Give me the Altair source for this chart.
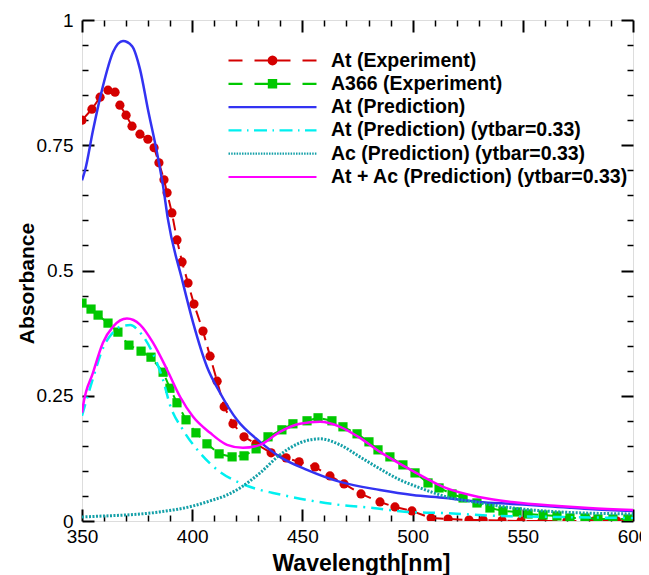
import math
import altair as alt
import pandas as pd

FONT = "Liberation Sans"
W, H = 551, 501

series = ["At (Experiment)", "A366 (Experiment)", "At (Prediction)",
          "At (Prediction) (ytbar=0.33)", "Ac (Prediction) (ytbar=0.33)",
          "At + Ac (Prediction) (ytbar=0.33)"]
colors = ["#d40000", "#00c800", "#3333f2", "#00f0f0", "#14a0a8", "#ff00ff"]

# ---- experimental data ----
at_exp_wl = [350, 354.5, 358.2, 361.8, 365.0, 367.2, 370.0, 372.7, 376.3, 379.9, 382.7,
             384.9, 387.2, 388.6, 390.8, 393.1, 395.4, 398.1, 400.8, 404.9, 408.1, 411.3,
             414.5, 418.5, 423.5, 428.9, 435.8, 442.6, 448.5, 455.7, 462.5, 468.9, 476.6,
             485.2, 492.0, 499.7, 508.4, 516.1, 525.6, 532.0, 540.6, 549.2, 558.7, 570.0,
             582.3, 592.7, 600]
at_exp_val = [0.800, 0.822, 0.846, 0.860, 0.856, 0.830, 0.810, 0.788, 0.772, 0.762, 0.745,
              0.715, 0.681, 0.655, 0.615, 0.561, 0.517, 0.475, 0.433, 0.379, 0.329, 0.279,
              0.228, 0.194, 0.168, 0.154, 0.136, 0.126, 0.118, 0.108, 0.090, 0.074, 0.054,
              0.038, 0.028, 0.020, 0.006, 0.004, 0.002, 0.002, 0.001, 0.0, 0.0, 0.0,
              0.0, 0.0, 0.0]

a366_wl = [350, 354.1, 357.3, 361.8, 366.3, 371.3, 376.8, 381.3, 386.8, 389.9, 393.1,
           397.2, 401.7, 406.7, 412.2, 418.1, 423.5, 429.0, 434.4, 440.7, 445.7, 452.1,
           457.1, 463.4, 468.4, 474.8, 480.2, 484.3, 489.7, 495.6, 501.1, 507.0, 512.0,
           517.9, 522.9, 529.2, 535.1, 541.0, 547.4, 552.4, 559.2, 565.5, 571.4, 578.2,
           584.1, 590.9, 597.7]
a366_val = [0.435, 0.423, 0.411, 0.395, 0.377, 0.351, 0.339, 0.327, 0.297, 0.265, 0.236,
            0.202, 0.176, 0.154, 0.134, 0.128, 0.130, 0.144, 0.168, 0.182, 0.194, 0.200,
            0.206, 0.200, 0.188, 0.174, 0.158, 0.142, 0.128, 0.112, 0.096, 0.076, 0.066,
            0.054, 0.046, 0.036, 0.026, 0.020, 0.018, 0.014, 0.012, 0.010, 0.006, 0.006,
            0.004, 0.004, 0.004]

# ---- predictions ----
at_pred_wl = [350, 351.4, 355, 359.5, 364.1, 368.6, 372.7, 376.3, 379.9, 384, 386.8, 389,
              395.4, 400.4, 406.7, 412.6, 420.3, 430.8, 439.8, 452.1, 467.1, 485.2, 500,
              515, 530, 545, 560, 580, 600]
at_pred_val = [0.680, 0.700, 0.780, 0.868, 0.936, 0.958, 0.948, 0.902, 0.822, 0.736, 0.668,
               0.602, 0.482, 0.396, 0.308, 0.256, 0.202, 0.158, 0.128, 0.102, 0.078, 0.062,
               0.052, 0.046, 0.038, 0.034, 0.030, 0.024, 0.020]

at33_wl = [350, 355, 359.5, 364, 368, 372, 376, 382, 386.8, 389.9, 395.8, 403.5, 412.6,
           421.7, 430.8, 436.7, 452.1, 467.1, 482, 497.5, 512.4, 540, 567, 600]
at33_val = [0.210, 0.285, 0.345, 0.376, 0.389, 0.391, 0.378, 0.336, 0.281, 0.232, 0.182,
            0.136, 0.098, 0.076, 0.062, 0.056, 0.042, 0.032, 0.026, 0.018, 0.016, 0.010,
            0.008, 0.006]

ac33_wl = [350, 360, 370, 385, 400.4, 408, 415.8, 421.7, 430.8, 439.8, 448.9, 458,
           467.1, 476.1, 485.2, 494.3, 503.4, 515.6, 530.6, 545.6, 567, 600]
ac33_val = [0.008, 0.010, 0.012, 0.018, 0.030, 0.040, 0.052, 0.066, 0.096, 0.132, 0.156,
            0.164, 0.152, 0.128, 0.104, 0.082, 0.066, 0.048, 0.036, 0.026, 0.018, 0.014]

sum33_wl = [350, 350.4, 355, 359.5, 364.1, 370.4, 376.3, 382.2, 388.6, 394.5, 400.4, 408.1,
            415.8, 423, 430.8, 439.8, 448.9, 458, 467.1, 476.1, 485.2, 494.3, 500, 515,
            530, 545, 566, 580, 600]
sum33_val = [0.216, 0.228, 0.296, 0.356, 0.388, 0.404, 0.392, 0.356, 0.302, 0.248, 0.208,
             0.176, 0.152, 0.146, 0.152, 0.178, 0.194, 0.198, 0.188, 0.166, 0.138, 0.114,
             0.100, 0.066, 0.048, 0.038, 0.030, 0.026, 0.022]

x_major = [350, 400, 450, 500, 550, 600]
x_minor = [v for v in range(350, 601, 10) if v % 50 != 0]
y_major = [0, 0.25, 0.5, 0.75, 1]
y_minor = [round(i * 0.05, 2) for i in range(1, 20) if i % 5 != 0]


def frame(wl, val, name):
    return pd.DataFrame({"wl": wl, "val": val, "series": name})


df_at_exp = frame(at_exp_wl, at_exp_val, series[0])
df_a366 = frame(a366_wl, a366_val, series[1])
pred_frames = [frame(at_pred_wl, at_pred_val, series[2]),
               frame(at33_wl, at33_val, series[3]),
               frame(ac33_wl, ac33_val, series[4]),
               frame(sum33_wl, sum33_val, series[5])]
df_all = pd.concat([df_at_exp, df_a366] + pred_frames)

xs = alt.Scale(domain=[350, 600], nice=False, zero=False)
ys = alt.Scale(domain=[0, 1], nice=False, zero=False)


def XY(xaxis=None, yaxis=None):
    return dict(x=alt.X("wl:Q", scale=xs, axis=xaxis),
                y=alt.Y("val:Q", scale=ys, axis=yaxis))


layers = []
# experiments: dashed line + markers
for dfe, col, marker in [(df_at_exp, colors[0], "circle"), (df_a366, colors[1], "square")]:
    layers.append(alt.Chart(dfe).mark_line(strokeWidth=2, strokeDash=[12, 7], clip=True, color=col)
                  .encode(**XY()))
    layers.append(alt.Chart(dfe).mark_point(shape=marker, filled=True, size=85, opacity=1,
                                            clip=True, color=col)
                  .encode(**XY()))
# predictions
pred_styles = [dict(strokeWidth=2.5),
               dict(strokeWidth=2.5, strokeDash=[12, 6, 2, 6]),
               dict(strokeWidth=3, strokeDash=[2, 1.5]),
               dict(strokeWidth=2.5)]
for dfp, st, col in zip(pred_frames, pred_styles, colors[2:]):
    layers.append(alt.Chart(dfp).mark_line(clip=True, interpolate="monotone", color=col, **st)
                  .encode(**XY()))


# legend symbols (custom paths, unit = 10 px)
def seg(a, b):
    return f"M{a:.2f},0L{b:.2f},0"


def pattern(parts):
    out, pos, i = "", -4.4, 0
    while pos < 4.4:
        length, gap = parts[i % len(parts)]
        out += seg(pos, min(pos + length, 4.4))
        pos += length + gap
        i += 1
    return out


def polygon(r, n):
    pts = [(r * math.cos(2 * math.pi * k / n), r * math.sin(2 * math.pi * k / n)) for k in range(n)]
    return "M" + "L".join(f"{x:.3f},{y:.3f}" for x, y in pts) + "Z"


circ = polygon(0.38, 16)
sq = "M-0.36,-0.36L0.36,-0.36L0.36,0.36L-0.36,0.36Z"
dashed = seg(-4.4, -3.0) + seg(-1.8, 1.8) + seg(3.0, 4.4)
paths = [dashed + circ, dashed + sq, seg(-4.4, 4.4),
         pattern([(1.3, 0.55), (0.15, 0.55)]),
         pattern([(0.15, 0.12)]),
         seg(-4.4, 4.4)]

leg = alt.Legend(orient="none", legendX=179, legendY=29, title=None, padding=0,
                 labelFont=FONT, labelFontSize=19.5, labelFontWeight="bold",
                 labelColor="black", labelOffset=47, labelLimit=400,
                 symbolSize=400, symbolStrokeWidth=2.2, symbolOpacity=1,
                 rowPadding=2.3)
layers.append(alt.Chart(df_all).mark_point(filled=True, opacity=0, size=400)
              .encode(shape=alt.Shape("series:N", scale=alt.Scale(domain=series, range=paths), legend=leg),
                      fill=alt.Fill("series:N", scale=alt.Scale(domain=series, range=colors), legend=leg),
                      stroke=alt.Stroke("series:N", scale=alt.Scale(domain=series, range=colors), legend=leg),
                      **XY()))


# axes
def tick_axis(orient, offset, values, size, width):
    return alt.Axis(orient=orient, offset=offset, values=values, tickSize=size,
                    tickWidth=width, tickColor="black", labels=False, domain=False,
                    grid=False, title=None)


x_lab = alt.Axis(orient="bottom", values=x_major, ticks=False, tickSize=0, domain=False,
                 grid=False, labelFont=FONT, labelFontSize=19, labelColor="black",
                 labelPadding=6, labelFlush=False, labelOverlap=False,
                 labelExpr="toString(datum.value)",
                 title="Wavelength[nm]", titleFont=FONT, titleFontSize=23,
                 titleFontWeight="bold", titleColor="black", titleX=279, titleY=42,
                 titleBaseline="middle")
y_lab = alt.Axis(orient="left", values=y_major, ticks=False, tickSize=0, domain=False,
                 grid=False, labelFont=FONT, labelFontSize=19, labelColor="black",
                 labelPadding=9, labelFlush=False, labelOverlap=False,
                 labelExpr="toString(datum.value)",
                 title="Absorbance", titleFont=FONT, titleFontSize=21,
                 titleFontWeight="bold", titleColor="black", titleX=-55, titleY=263,
                 titleBaseline="middle", titleAngle=-90)

axis_sets = [
    (x_lab, y_lab),
    (tick_axis("top", -H, x_major, 12, 2), tick_axis("right", -W, y_major, 12, 2)),
    (tick_axis("bottom", -H, x_major, 12, 2), tick_axis("left", -W, y_major, 12, 2)),
    (tick_axis("top", -H, x_minor, 6, 1.5), tick_axis("right", -W, y_minor, 6, 1.5)),
    (tick_axis("bottom", -H, x_minor, 6, 1.5), tick_axis("left", -W, y_minor, 6, 1.5)),
]
for xa, ya in axis_sets:
    layers.append(alt.Chart(df_all).transform_filter("false").mark_point()
                  .encode(**XY(xa, ya)))

chart = (alt.layer(*layers)
         .resolve_axis(x="independent", y="independent")
         .properties(width=W, height=H, autosize="none",
                     padding={"left": 74, "top": 12, "right": 8, "bottom": 54})
         .configure_view(stroke="black", strokeWidth=3)
         .configure(background="white"))

chart.save("out.html", embed_options={"renderer": "svg", "actions": False})
